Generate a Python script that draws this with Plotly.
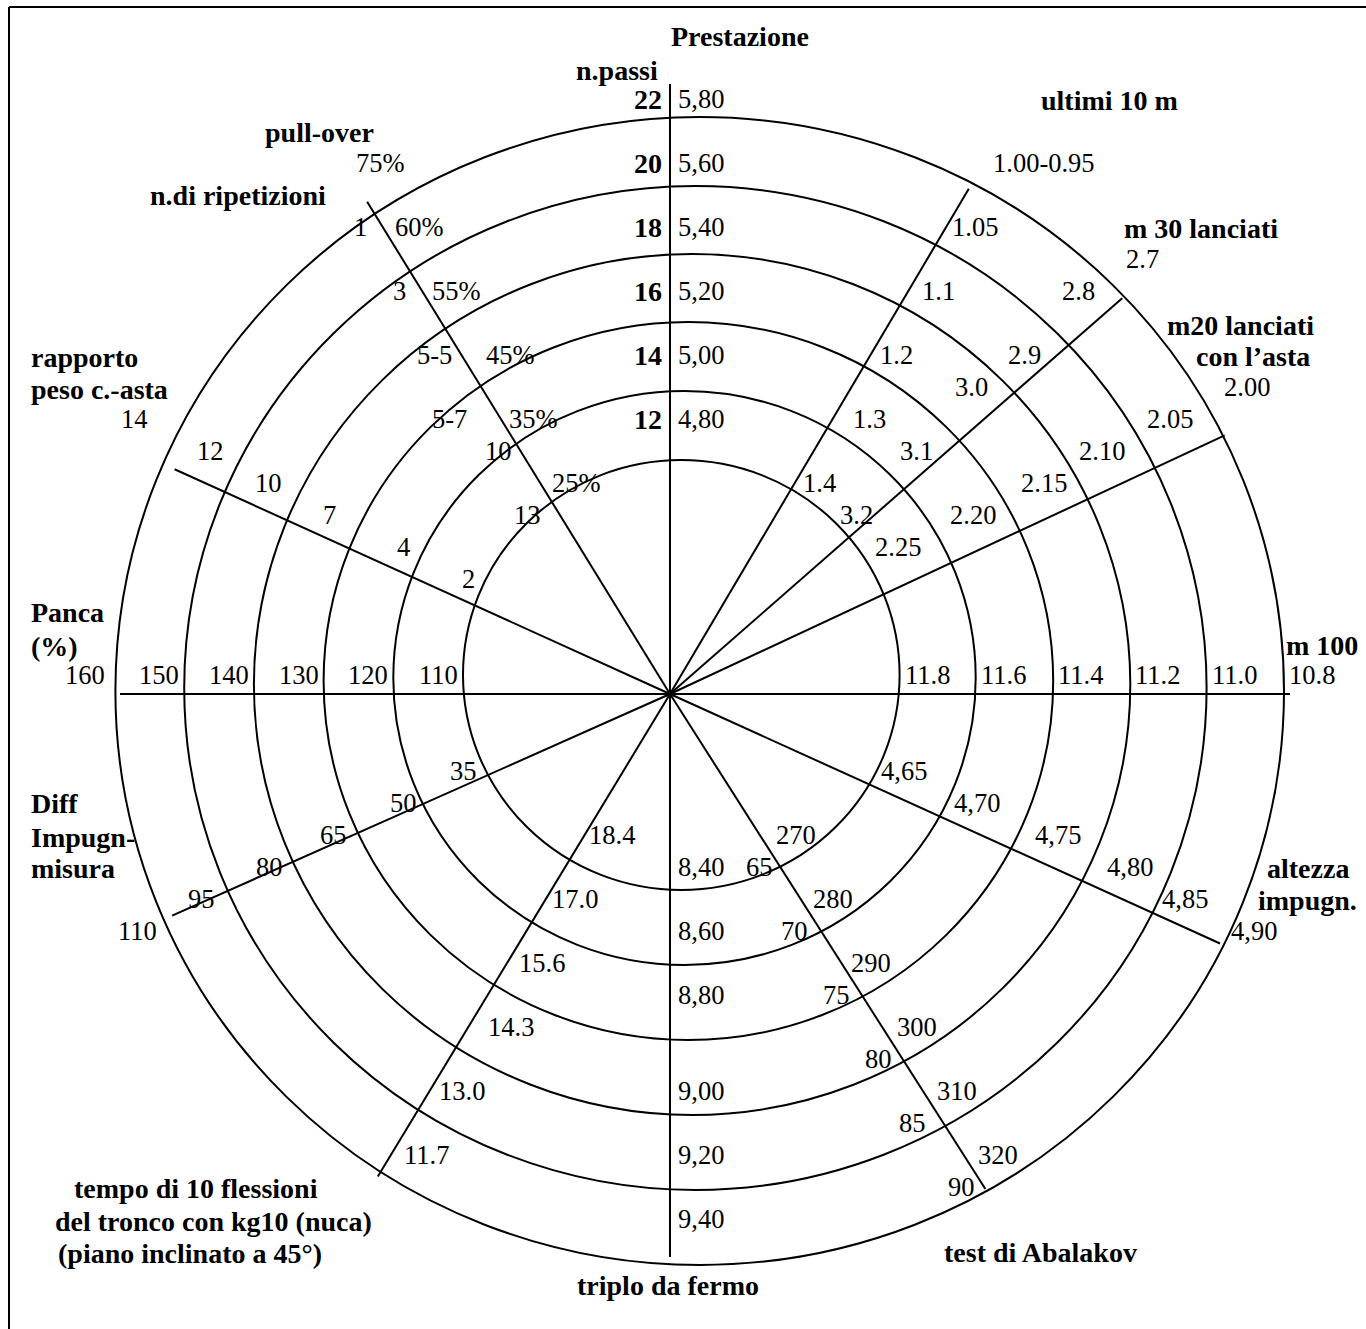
import math
import plotly.graph_objects as go

# ---------------- data (tick labels / categories) ----------------
TITLE_TOP = "Prestazione"
PASSI = ["22", "20", "18", "16", "14", "12"]
PRESTAZIONE = ["5,80", "5,60", "5,40", "5,20", "5,00", "4,80"]
ULTIMI_10M = ["1.00-0.95", "1.05", "1.1", "1.2", "1.3", "1.4"]
M30_LANCIATI = ["2.7", "2.8", "2.9", "3.0", "3.1", "3.2"]
M20_LANCIATI = ["2.00", "2.05", "2.10", "2.15", "2.20", "2.25"]
M100 = ["11.8", "11.6", "11.4", "11.2", "11.0", "10.8"]
ALTEZZA_IMPUGN = ["4,65", "4,70", "4,75", "4,80", "4,85", "4,90"]
ABALAKOV_CM = ["65", "70", "75", "80", "85", "90"]
ABALAKOV_W = ["270", "280", "290", "300", "310", "320"]
TRIPLO = ["8,40", "8,60", "8,80", "9,00", "9,20", "9,40"]
FLESSIONI = ["18.4", "17.0", "15.6", "14.3", "13.0", "11.7"]
DIFF_IMPUGN = ["35", "50", "65", "80", "95", "110"]
PANCA = ["110", "120", "130", "140", "150", "160"]
RAPPORTO = ["14", "12", "10", "7", "4", "2"]
RIPETIZIONI = ["1", "3", "5-5", "5-7", "10", "13"]
PULL_OVER = ["75%", "60%", "55%", "45%", "35%", "25%"]

# ---------------- geometry / layout ----------------
W, H = 1366, 1329
CX, CY = 670, 694
AXIS_ANGLES = [90, 59.4, 41.2, 25.0, 0, -24.4, -57.5, -90, -121.2, 204.0, 180, 155.6, 121.6]
AXIS_LENGTHS = [610, 587, 601, 612, 620, 604, 587, 563, 564, 545, 550, 544, 578]

RING_CX = [681.3, 684.5, 688.4, 692.1, 695.4, 699.7]
RING_CY = [675, 678, 681, 684.5, 688, 691]
RING_RX = [218.3, 291.2, 364.8, 438.2, 511.2, 584.3]
RING_RY = [215, 287, 359, 430.5, 502, 574]

ROW0, ROW_H = 99, 32
FONT = "Liberation Serif, Times New Roman, serif"
NUM_SIZE = 26.5
TITLE_SIZE = 28


def row_y(r):
    return ROW0 + ROW_H * r


def line_x(ai, y):
    a = math.radians(AXIS_ANGLES[ai])
    if abs(math.cos(a)) < 1e-9:
        return CX
    return CX + (CY - y) * math.cos(a) / math.sin(a)


fig = go.Figure()

# rings
shapes = []
for cx, cy, rx, ry in zip(RING_CX, RING_CY, RING_RX, RING_RY):
    shapes.append(dict(type="circle", xref="x", yref="y", x0=cx - rx, x1=cx + rx,
                       y0=cy - ry, y1=cy + ry, line=dict(color="black", width=2)))
# frame (top and left edges)
shapes.append(dict(type="line", xref="x", yref="y", x0=9, x1=W, y0=7, y1=7,
                   line=dict(color="black", width=2)))
shapes.append(dict(type="line", xref="x", yref="y", x0=9, x1=9, y0=7, y1=H,
                   line=dict(color="black", width=2)))

# radial axes
for ang, ln in zip(AXIS_ANGLES, AXIS_LENGTHS):
    a = math.radians(ang)
    fig.add_trace(go.Scatter(x=[CX, CX + ln * math.cos(a)], y=[CY, CY - ln * math.sin(a)],
                             mode="lines", line=dict(color="black", width=2),
                             hoverinfo="skip", showlegend=False))

annotations = []


def lab(text, x, y, anchor="center", bold=False):
    annotations.append(dict(
        x=x, y=y, xref="x", yref="y", text=text, showarrow=False,
        xanchor=anchor, yanchor="middle", borderpad=0,
        font=dict(family=FONT, size=TITLE_SIZE if bold else NUM_SIZE, color="black",
                  weight="bold" if bold else "normal")))


# label groups along slanted / vertical axes: (axis, texts, rows, anchor, dx, bold)
GROUPS = [
    (0, PASSI, [0, 2, 4, 6, 8, 10], "right", [-7] * 6, True),
    (0, PRESTAZIONE, [0, 2, 4, 6, 8, 10], "left", [7] * 6, False),
    (1, ULTIMI_10M, [2, 4, 6, 8, 10, 12], "left", [8, 5, 13, 9, 19, 7], False),
    (2, M30_LANCIATI, [5, 6, 8, 9, 11, 13], "center", [-24, -52, -33, -49, -31, -18], False),
    (3, M20_LANCIATI, [9, 10, 11, 12, 13, 14], "center", [-81, -90, -89, -78, -81, -87], False),
    (5, ALTEZZA_IMPUGN, [21, 22, 23, 24, 25, 26], "left", [40, 43, 53, 55, 39, 38], False),
    (6, ABALAKOV_CM, [24, 26, 28, 30, 32, 34], "right", [-6, -12, -11, -10, -16, -8], False),
    (6, ABALAKOV_W, [23, 25, 27, 29, 31, 33], "left", [15, 11, 9, 14, 13, 13], False),
    (7, TRIPLO, [24, 26, 28, 31, 33, 35], "left", [7] * 6, False),
    (8, FLESSIONI, [23, 25, 27, 29, 31, 33], "left", [3, 5, 11, 19, 8, 12], False),
    (9, DIFF_IMPUGN, [21, 22, 23, 24, 25, 26], "right", [-19, -7, -5, 3, 6, 20], False),
    (11, RAPPORTO, [10, 11, 12, 13, 14, 15], "right", [85, 91, 78, 62, 65, 60], False),
    (12, RIPETIZIONI, [4, 6, 8, 10, 11, 13], "right", [-15, -15, -8, -33, -8, -18], False),
    (12, PULL_OVER, [2, 4, 6, 8, 10, 12], "left", [12, 11, 9, 24, 7, 11], False),
]
for ai, texts, rows, anchor, dxs, bold in GROUPS:
    for t, r, dx in zip(texts, rows, dxs):
        y = row_y(r)
        lab(t, line_x(ai, y) + dx, y, anchor, bold)

# horizontal axes: labels next to ring crossings
for i, t in enumerate(M100):
    lab(t, RING_CX[i] + RING_RX[i] + 4, row_y(18), "left")
for i, t in enumerate(PANCA):
    lab(t, RING_CX[i] - RING_RX[i] - (9 if i == 5 else 4), row_y(18), "right")

# axis titles
TITLES = [
    (TITLE_TOP, 740, 36, "center"),
    ("n.passi", 617, 70, "center"),
    ("ultimi 10 m", 1109, 100, "center"),
    ("m 30 lanciati", 1201, 228, "center"),
    ("m20 lanciati", 1315, 325, "right"),
    ("con l’asta", 1311, 356, "right"),
    ("m 100", 1322, 645, "center"),
    ("altezza", 1308, 868, "center"),
    ("impugn.", 1307, 900, "center"),
    ("test di Abalakov", 1040, 1252, "center"),
    ("triplo da fermo", 668, 1285, "center"),
    ("tempo di 10 flessioni", 196, 1188, "center"),
    ("del tronco con kg10 (nuca)", 213, 1221, "center"),
    ("(piano inclinato a 45°)", 190, 1253, "center"),
    ("Diff", 30, 803, "left"),
    ("Impugn-", 30, 837, "left"),
    ("misura", 30, 868, "left"),
    ("Panca", 30, 612, "left"),
    ("(%)", 30, 646, "left"),
    ("rapporto", 30, 357, "left"),
    ("peso c.-asta", 30, 389, "left"),
    ("pull-over", 319, 132, "center"),
    ("n.di ripetizioni", 238, 195, "center"),
]
for t, x, y, anc in TITLES:
    lab(t, x, y, anc, bold=True)

fig.update_layout(
    width=W, height=H, margin=dict(l=0, r=0, t=0, b=0, pad=0),
    paper_bgcolor="white", plot_bgcolor="white",
    xaxis=dict(range=[0, W], visible=False, fixedrange=True),
    yaxis=dict(range=[H, 0], visible=False, fixedrange=True),
    shapes=shapes, annotations=annotations, showlegend=False,
)

fig.write_html("out.html", config={"displayModeBar": False},
               post_script="document.body.style.margin='0';document.body.style.overflow='hidden';")
